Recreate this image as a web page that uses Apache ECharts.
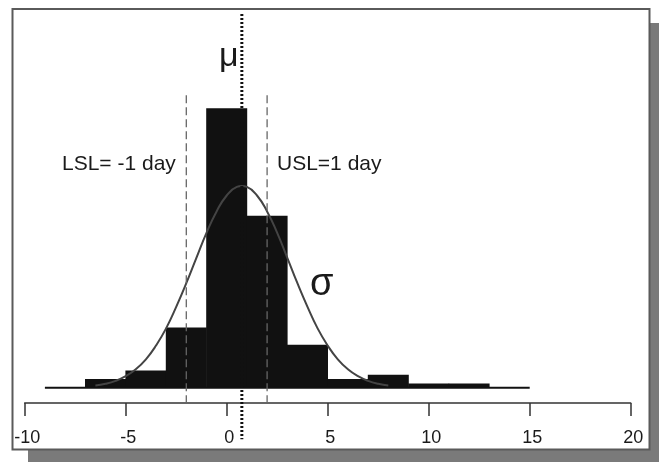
<!DOCTYPE html>
<html><head><meta charset="utf-8">
<script src="https://cdn.jsdelivr.net/npm/echarts@6/dist/echarts.min.js"></script>
<style>html,body{margin:0;padding:0;background:#fff}#c{width:659px;height:462px}</style>
</head><body><div id="c"></div>
<script>
// ---- data ----
const binStarts = [-7, -5, -3, -1, 1, 3, 5, 7, 9, 11];
const binWidth = 2;
const counts = [2, 4, 14, 65, 40, 10, 2, 3, 1, 1];
const baselineRange = [-9, 15];
const curveX = [-6.5,-6,-5.5,-5,-4.5,-4,-3.5,-3,-2.5,-2,-1.5,-1,-0.5,0,0.5,0.75,1,1.5,2,2.5,3,3.5,4,4.5,5,5.5,6,6.5,7,7.5,8];
const curveY = [0.5,0.9,1.6,2.7,4.3,6.6,9.8,13.8,18.8,24.3,30.2,36.0,41.0,44.7,46.7,46.9,46.7,44.7,41.0,36.0,30.2,24.3,18.8,13.8,9.8,6.6,4.3,2.7,1.6,0.9,0.5];
const xTicks = [-10, -5, 0, 5, 10, 15, 20];
const lsl = -2, usl = 2, mu = 0.75;
const lslText = 'LSL= -1 day', uslText = 'USL=1 day', muText = 'μ', sigmaText = 'σ';

// ---- chart ----
const FONT = '"Liberation Sans", Arial, sans-serif';
const chart = echarts.init(document.getElementById('c'), null, {renderer: 'canvas'});
const L = 24.7, R = 659 - 630.7;
const option = {
  animation: false,
  backgroundColor: '#fff',
  grid: [
    {left: L, right: R, top: 9.3, bottom: 59},      // axis grid
    {left: L, right: R, top: 9.3, bottom: 22.7}     // data grid
  ],
  xAxis: [
    {gridIndex: 0, type: 'value', min: xTicks[0], max: xTicks[xTicks.length-1], interval: 5,
     axisLine: {show: true, lineStyle: {color: '#333', width: 1.5}},
     axisTick: {show: true, length: 13, lineStyle: {color: '#333', width: 1.5}},
     axisLabel: {fontSize: 18, color: '#1a1a1a', fontFamily: FONT, margin: 26, padding: [0,0,0,5]},
     splitLine: {show: false}},
    {gridIndex: 1, type: 'value', min: xTicks[0], max: xTicks[xTicks.length-1], show: false}
  ],
  yAxis: [
    {gridIndex: 0, type: 'value', min: 0, max: 1, show: false},
    {gridIndex: 1, type: 'value', min: -12, max: 88, show: false}
  ],
  series: [
    {type: 'custom', xAxisIndex: 1, yAxisIndex: 1, z: 2,
     data: binStarts.map((s, i) => [s, s + binWidth, counts[i]]),
     encode: {x: [0, 1], y: 2},
     renderItem: function (params, api) {
       const p0 = api.coord([api.value(0), api.value(2)]);
       const p1 = api.coord([api.value(1), 0]);
       return {type: 'rect', shape: {x: p0[0] - 0.3, y: p0[1], width: p1[0] - p0[0] + 0.6, height: p1[1] - p0[1]},
               style: {fill: '#111'}};
     }},
    {type: 'line', xAxisIndex: 1, yAxisIndex: 1, z: 3, symbol: 'none',
     data: [[baselineRange[0], 0], [baselineRange[1], 0]],
     lineStyle: {color: '#111', width: 2}},
    {type: 'line', xAxisIndex: 1, yAxisIndex: 1, z: 4, symbol: 'none', smooth: true,
     data: curveX.map((x, i) => [x, curveY[i]]),
     lineStyle: {color: '#444', width: 2}},
    {type: 'line', xAxisIndex: 1, yAxisIndex: 1, z: 5, symbol: 'none',
     data: [[lsl, 68], [lsl, -3.56]],
     lineStyle: {color: '#666', width: 1.3, type: [8, 4]}},
    {type: 'line', xAxisIndex: 1, yAxisIndex: 1, z: 5, symbol: 'none',
     data: [[usl, 68], [usl, -3.56]],
     lineStyle: {color: '#666', width: 1.3, type: [8, 4]}},
    {type: 'line', xAxisIndex: 1, yAxisIndex: 1, z: 5, symbol: 'none',
     data: [[mu, 86.9], [mu, -12]],
     lineStyle: {color: '#111', width: 3, type: [2, 2], cap: 'butt'}}
  ],
  graphic: [
    {type: 'rect', z: -10, silent: true, shape: {x: 650, y: 23, width: 9, height: 439}, style: {fill: '#7a7a7a'}},
    {type: 'rect', z: -10, silent: true, shape: {x: 28, y: 450, width: 631, height: 12}, style: {fill: '#7a7a7a'}},
    {type: 'rect', z: -9, silent: true, shape: {x: 12.5, y: 9, width: 637, height: 440.5}, style: {fill: '#fff', stroke: '#5a5a5a', lineWidth: 2}},
    {type: 'text', z: 10, left: 62, top: 154, style: {text: lslText, font: '21px ' + FONT, fill: '#1a1a1a'}},
    {type: 'text', z: 10, left: 277, top: 154, style: {text: uslText, font: '21px ' + FONT, fill: '#1a1a1a'}},
    {type: 'text', z: 10, left: 219, top: 40, style: {text: muText, font: '34px ' + FONT, fill: '#1a1a1a'}},
    {type: 'text', z: 10, left: 310, top: 266, style: {text: sigmaText, font: '38px ' + FONT, fill: '#1a1a1a'}}
  ]
};
chart.setOption(option);
</script>
</body></html>
